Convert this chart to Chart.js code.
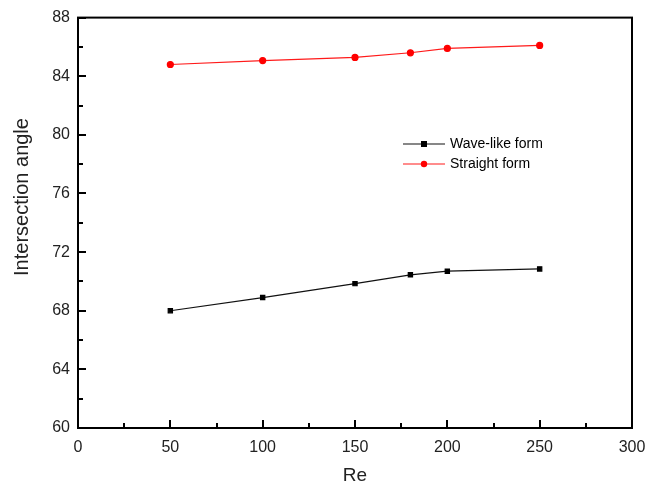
<!DOCTYPE html>
<html>
<head>
<meta charset="utf-8">
<script src="https://cdn.jsdelivr.net/npm/chart.js@4/dist/chart.umd.min.js"></script>
<style>
  html, body { margin: 0; padding: 0; background: #fff; }
  #wrap { width: 661px; height: 485px; }
</style>
</head>
<body>
<div id="wrap"><canvas id="lineChart"></canvas></div>
<script>
// ---------------- DATA -----------------------------
const reValues = [50, 100, 150, 180, 200, 250];
const waveLike = [68.0, 68.9, 69.85, 70.45, 70.7, 70.85];
const straight = [84.8, 85.07, 85.28, 85.6, 85.9, 86.1];
const xTicks = [0, 50, 100, 150, 200, 250, 300];
const yTicks = [60, 64, 68, 72, 76, 80, 84, 88];

const FONT = "'Liberation Sans', Arial, sans-serif";

function toPoints(xs, ys) {
  return xs.map((x, i) => ({ x: x, y: ys[i] }));
}

// inward ticks, frame, y title and legend drawn over the plot
const framePlugin = {
  id: "frame",
  afterDraw(chart) {
    const ctx = chart.ctx;
    const a = chart.chartArea;
    const xs = chart.scales.x;
    const ys = chart.scales.y;
    ctx.save();
    ctx.strokeStyle = "#000";
    ctx.lineWidth = 2;
    ctx.strokeRect(a.left, a.top, a.right - a.left, a.bottom - a.top);

    for (let v = 0; v <= 300; v += 25) {
      const px = Math.round(xs.getPixelForValue(v));
      const len = v % 50 === 0 ? 8 : 5;
      ctx.beginPath();
      ctx.moveTo(px, a.bottom);
      ctx.lineTo(px, a.bottom - len);
      ctx.stroke();
    }
    for (let v = 60; v <= 88; v += 2) {
      const py = Math.round(ys.getPixelForValue(v));
      const len = v % 4 === 0 ? 8 : 5;
      ctx.beginPath();
      ctx.moveTo(a.left, py);
      ctx.lineTo(a.left + len, py);
      ctx.stroke();
    }

    // y axis title
    ctx.save();
    ctx.translate(22, 197);
    ctx.rotate(-Math.PI / 2);
    ctx.font = "20px " + FONT;
    ctx.fillStyle = "#222";
    ctx.textAlign = "center";
    ctx.textBaseline = "middle";
    ctx.fillText("Intersection angle", 0, 0);
    ctx.restore();

    // legend
    const items = chart.data.datasets;
    const lx = 403, ly = 144, gap = 20;
    ctx.font = "14px " + FONT;
    ctx.textBaseline = "middle";
    items.forEach((ds, i) => {
      const y = ly + i * gap;
      ctx.strokeStyle = ds.borderColor;
      ctx.lineWidth = 1.2;
      ctx.beginPath();
      ctx.moveTo(lx, y);
      ctx.lineTo(lx + 42, y);
      ctx.stroke();
      ctx.fillStyle = ds.pointBackgroundColor;
      if (ds.pointStyle === "rect") {
        ctx.fillRect(lx + 18, y - 3, 6, 6);
      } else {
        ctx.beginPath();
        ctx.arc(lx + 21, y, 3.2, 0, Math.PI * 2);
        ctx.fill();
      }
      ctx.fillStyle = "#000";
      ctx.fillText(ds.label, lx + 47, y);
    });
    ctx.restore();
  },
};

const lineChartData = {
  datasets: [
    {
      label: "Wave-like form",
      data: toPoints(reValues, waveLike),
      borderColor: "#111",
      backgroundColor: "#000",
      pointBackgroundColor: "#000",
      pointBorderColor: "#000",
      pointStyle: "rect",
      pointRadius: 3,
      borderWidth: 1.2,
      showLine: true,
    },
    {
      label: "Straight form",
      data: toPoints(reValues, straight),
      borderColor: "#ff1a1a",
      backgroundColor: "#ff0000",
      pointBackgroundColor: "#ff0000",
      pointBorderColor: "#ff0000",
      pointStyle: "circle",
      pointRadius: 3,
      borderWidth: 1.2,
      showLine: true,
    },
  ],
};

const lineChartConfig = {
  type: "scatter",
  data: lineChartData,
  options: {
    responsive: true,
    maintainAspectRatio: false,
    animation: false,
    layout: { padding: { top: 9, right: 29, left: 0, bottom: 0 } },
    plugins: {
      legend: { display: false },
      tooltip: { enabled: false },
    },
    scales: {
      x: {
        type: "linear",
        min: 0,
        max: 300,
        afterFit(scale) { scale.height = 57; },
        afterBuildTicks(scale) { scale.ticks = xTicks.map((v) => ({ value: v })); },
        grid: { display: false, drawTicks: false },
        border: { display: false },
        ticks: { padding: 10, color: "#222", font: { family: FONT, size: 16 } },
        title: {
          display: true,
          text: "Re",
          color: "#222",
          font: { family: FONT, size: 19, lineHeight: 1 },
          padding: { top: 0, bottom: 0 },
        },
      },
      y: {
        type: "linear",
        min: 60,
        max: 88,
        afterFit(scale) { scale.width = 78; },
        afterBuildTicks(scale) { scale.ticks = yTicks.map((v) => ({ value: v })); },
        grid: { display: false, drawTicks: false },
        border: { display: false },
        ticks: { padding: 8, color: "#222", font: { family: FONT, size: 16 } },
        title: { display: false },
      },
    },
  },
  plugins: [framePlugin],
};

// RENDER THE CHART
const lineChart = new Chart(document.getElementById("lineChart"), lineChartConfig);
</script>
</body>
</html>
